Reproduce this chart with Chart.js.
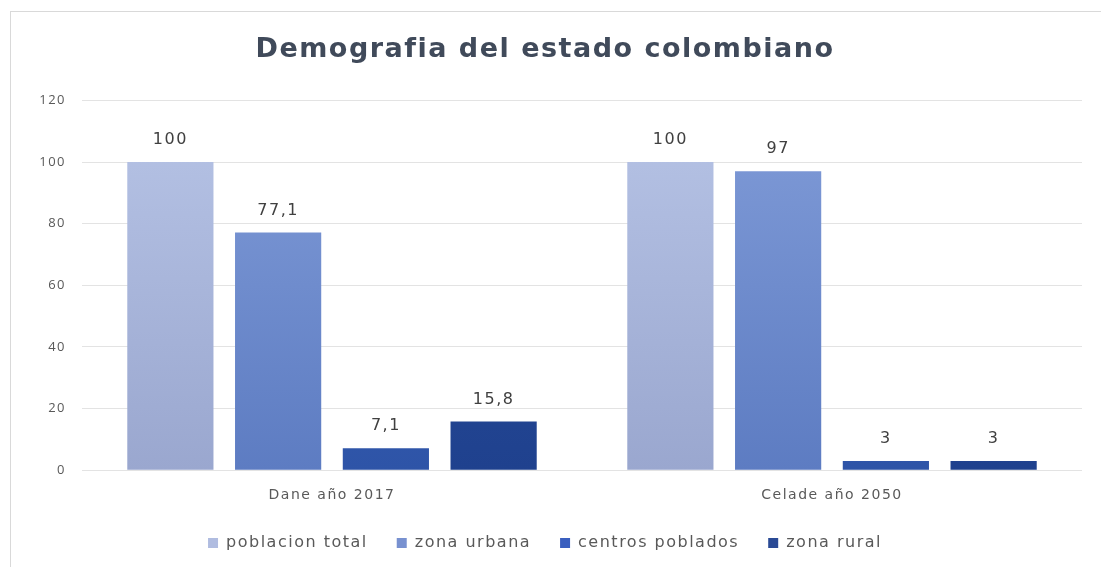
<!DOCTYPE html>
<html>
<head>
<meta charset="utf-8">
<script src="https://cdn.jsdelivr.net/npm/chart.js@4.4.0/dist/chart.umd.min.js"></script>
<style>
  html, body { margin: 0; padding: 0; background: #ffffff; }
  #marco { position: absolute; left: 10px; top: 11px; width: 1090px; height: 560px; border-left: 1px solid #d9d9d9; border-top: 1px solid #d9d9d9; }
  #grafico { position: absolute; left: 0; top: 0; }
</style>
</head>
<body>
<div id="marco"></div>
<canvas id="grafico" width="1104" height="567"></canvas>
<script>
// Datos del grafico
const categorias = ["Dane año 2017", "Celade año 2050"];
const poblacionTotal = [100, 100];
const zonaUrbana = [77.1, 97];
const centrosPoblados = [7.1, 3];
const zonaRural = [15.8, 3];
const ticksY = [0, 20, 40, 60, 80, 100, 120];

// Colores degradados (arriba, abajo) y color de leyenda
const colores = [
  ["#b7c4e6", "#9aa7cf"],
  ["#819cd8", "#5d7cc2"],
  ["#3b66c2", "#2e54a7"],
  ["#2e529f", "#1f418e"]
];
const coloresLeyenda = ["#b0bce0", "#7891d0", "#3a5fbf", "#2a4a95"];

const degradado = (i) => (ctx) => {
  const area = ctx.chart.chartArea;
  if (!area) return colores[i][0];
  const g = ctx.chart.ctx.createLinearGradient(0, area.top, 0, area.bottom);
  g.addColorStop(0, colores[i][0]);
  g.addColorStop(1, colores[i][1]);
  return g;
};

// Texto un poco mas espaciado, como en la imagen original
const espaciado = {
  id: "espaciado",
  beforeUpdate(chart) { chart.ctx.letterSpacing = "1.5px"; },
  beforeLayout(chart) { chart.ctx.letterSpacing = "1.5px"; },
  beforeDraw(chart) { chart.ctx.letterSpacing = "1.5px"; }
};

// Etiquetas de valores sobre las barras
const etiquetas = {
  id: "etiquetas",
  afterDatasetsDraw(chart) {
    const c = chart.ctx;
    c.save();
    c.font = "16px 'DejaVu Sans'";
    c.fillStyle = "#404040";
    c.textAlign = "center";
    c.textBaseline = "middle";
    chart.data.datasets.forEach((ds, i) => {
      chart.getDatasetMeta(i).data.forEach((bar, j) => {
        c.fillText(String(ds.data[j]).replace(".", ","), bar.x, bar.y - 22);
      });
    });
    c.restore();
  }
};

const series = [
  ["poblacion total", poblacionTotal],
  ["zona urbana", zonaUrbana],
  ["centros poblados", centrosPoblados],
  ["zona rural", zonaRural]
];

new Chart(document.getElementById("grafico"), {
  type: "bar",
  data: {
    labels: categorias,
    datasets: series.map(([nombre, valores], i) => ({
      label: nombre,
      data: valores,
      backgroundColor: degradado(i),
      borderWidth: 0,
      categoryPercentage: 0.862,
      barPercentage: 0.8
    }))
  },
  options: {
    responsive: false,
    animation: false,
    layout: { padding: { left: 8, right: 22, top: 20, bottom: 6 } },
    plugins: {
      title: {
        display: true,
        text: "Demografia del estado colombiano",
        color: "#404a5a",
        font: { family: "'DejaVu Sans'", size: 27, weight: "bold" },
        padding: { top: 14, bottom: 34 }
      },
      legend: {
        position: "bottom",
        labels: {
          color: "#595959",
          font: { family: "'DejaVu Sans'", size: 16 },
          boxWidth: 10,
          boxHeight: 10,
          padding: 29,
          generateLabels(chart) {
            return chart.data.datasets.map((ds, i) => ({
              text: ds.label,
              fillStyle: coloresLeyenda[i],
              fontColor: "#595959",
              strokeStyle: "transparent",
              lineWidth: 0,
              datasetIndex: i
            }));
          }
        }
      },
      tooltip: { enabled: false }
    },
    scales: {
      x: {
        afterFit(scale) { scale.height -= 7; },
        grid: { display: false },
        border: { display: false },
        ticks: { color: "#595959", font: { family: "'DejaVu Sans'", size: 14 }, padding: 9 }
      },
      y: {
        min: 0,
        max: 120,
        afterBuildTicks(scale) { scale.ticks = ticksY.map(v => ({ value: v })); },
        afterFit(scale) { scale.width = 74; },
        grid: { color: "#e3e3e3", drawTicks: false },
        border: { display: false },
        ticks: { color: "#595959", font: { family: "'Open Sans'", size: 13 }, padding: 16 }
      }
    }
  },
  plugins: [espaciado, etiquetas]
});
</script>
</body>
</html>
